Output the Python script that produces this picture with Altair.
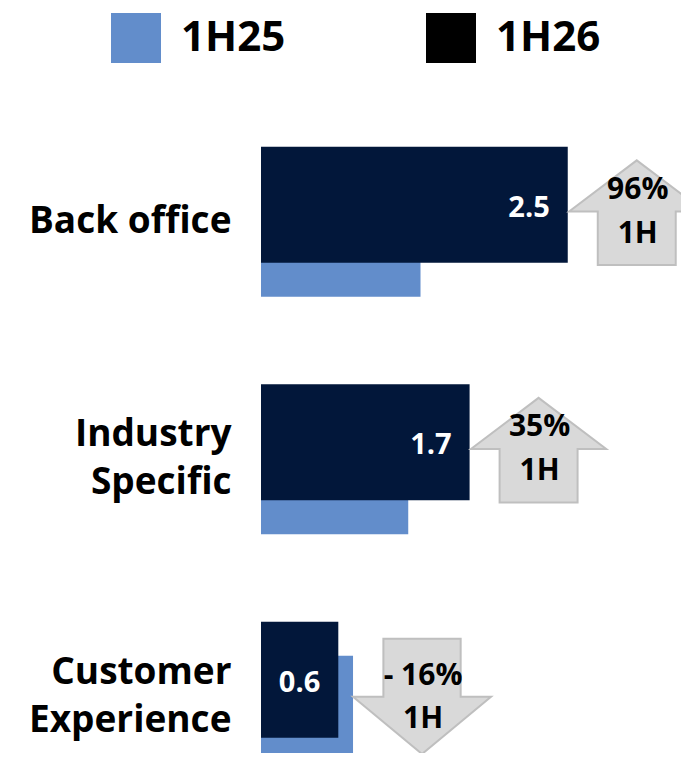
import altair as alt
import pandas as pd

categories = ["Back office", "Industry\nSpecific", "Customer\nExperience"]
v_1h25 = [1.3, 1.2, 0.75]
v_1h26 = [2.5, 1.7, 0.63]
growth = [96, 35, -16]
period = ["1H", "1H", "1H"]
series = ["1H25", "1H26"]

df = pd.DataFrame({"cat": categories, "v25": v_1h25, "v26": v_1h26, "g": growth, "p": period})

NAVY = "#02173a"
LIGHT = "#628dcb"
FONT = "Open Sans"

UP = "M0,-0.89 L0.98,-0.15 L0.565,-0.15 L0.565,0.625 L-0.565,0.625 L-0.565,-0.15 L-0.98,-0.15 Z"
DOWN = "M-0.56,-0.84 L0.56,-0.84 L0.56,0 L1.0,0 L0,0.83 L-1.0,0 L-0.56,0 Z"

xs = alt.Scale(domain=[0, 420 / 122.7], nice=False, zero=True)
y = alt.Y(
    "cat:N",
    sort=categories,
    title=None,
    scale=alt.Scale(range=[0, 712.5], paddingInner=0, paddingOuter=0),
    axis=alt.Axis(
        domain=False, ticks=False, grid=False,
        labelFont=FONT, labelFontWeight="bold", labelFontSize=37,
        labelColor="#000000", labelPadding=30, labelLimit=400,
        labelLineHeight=48, labelAlign="right", labelBaseline="middle",
        labelOffset={"condition": {"test": "indexof(datum.value, '\\n') >= 0", "value": -24}, "value": 0},
        labelExpr="split(datum.label, '\\n')",
    ),
)

base = alt.Chart(df)

b25 = base.transform_calculate(s="'1H25'").mark_bar(size=116, yOffset=17).encode(
    x=alt.X("v25:Q", scale=xs, axis=None),
    y=y,
    color=alt.Color(
        "s:N",
        scale=alt.Scale(domain=series, range=[LIGHT, "#000000"]),
        legend=alt.Legend(
            title=None, orient="none", legendX=-150, legendY=-90,
            direction="horizontal", symbolType="square", symbolSize=2500,
            symbolStrokeWidth=0, labelFont=FONT, labelFontWeight="bold",
            labelFontSize=42, labelColor="#000000", labelOffset=20,
            columnPadding=140, padding=0, labelLimit=300,
        ),
    ),
)

b26 = base.mark_bar(size=116, yOffset=-17, color=NAVY).encode(
    x=alt.X("v26:Q", scale=xs, axis=None),
    y=y,
)

vals = base.mark_text(
    align="right", baseline="middle", dx=-18, yOffset=-14,
    font=FONT, fontWeight="bold", fontSize=29, color="#ffffff",
).encode(
    x=alt.X("v26:Q", scale=xs, axis=None),
    y=y,
    text=alt.Text("v26:Q", format=".1f"),
)

arr = base.transform_calculate(
    m="max(datum.v25, datum.v26)",
    lbl="datum.g < 0 ? '- ' + abs(datum.g) + '%' : datum.g + '%'",
)

arrow_props = dict(size=19044, filled=True, fill="#d9d9d9", stroke="#bfbfbf",
                   strokeWidth=2, opacity=1, fillOpacity=1, strokeOpacity=1, xOffset=69)

up = arr.transform_filter("datum.g >= 0")
down = arr.transform_filter("datum.g < 0")

up_arrow = up.mark_point(shape=UP, **arrow_props).encode(x=alt.X("m:Q", scale=xs, axis=None), y=y)
down_arrow = down.mark_point(shape=DOWN, **arrow_props).encode(x=alt.X("m:Q", scale=xs, axis=None), y=y)

txt = dict(align="center", baseline="middle", font=FONT, fontWeight="bold",
           fontSize=30, color="#000000", xOffset=70)

up_pct = up.mark_text(yOffset=-32, **txt).encode(x=alt.X("m:Q", scale=xs, axis=None), y=y, text="lbl:N")
up_p = up.mark_text(yOffset=12, **txt).encode(x=alt.X("m:Q", scale=xs, axis=None), y=y, text="p:N")
down_pct = down.mark_text(yOffset=-21, **txt).encode(x=alt.X("m:Q", scale=xs, axis=None), y=y, text="lbl:N")
down_p = down.mark_text(yOffset=22, **txt).encode(x=alt.X("m:Q", scale=xs, axis=None), y=y, text="p:N")

chart = alt.layer(
    b25, b26, vals, up_arrow, down_arrow, up_pct, up_p, down_pct, down_p
).properties(
    width=420,
    height=650,
    background="#ffffff",
    autosize=alt.AutoSizeParams(type="none"),
    padding={"left": 253, "top": 95, "right": 0, "bottom": 0},
).configure_view(strokeWidth=0, stroke="transparent")

chart.save("out.html", embed_options={"renderer": "svg", "actions": False})
